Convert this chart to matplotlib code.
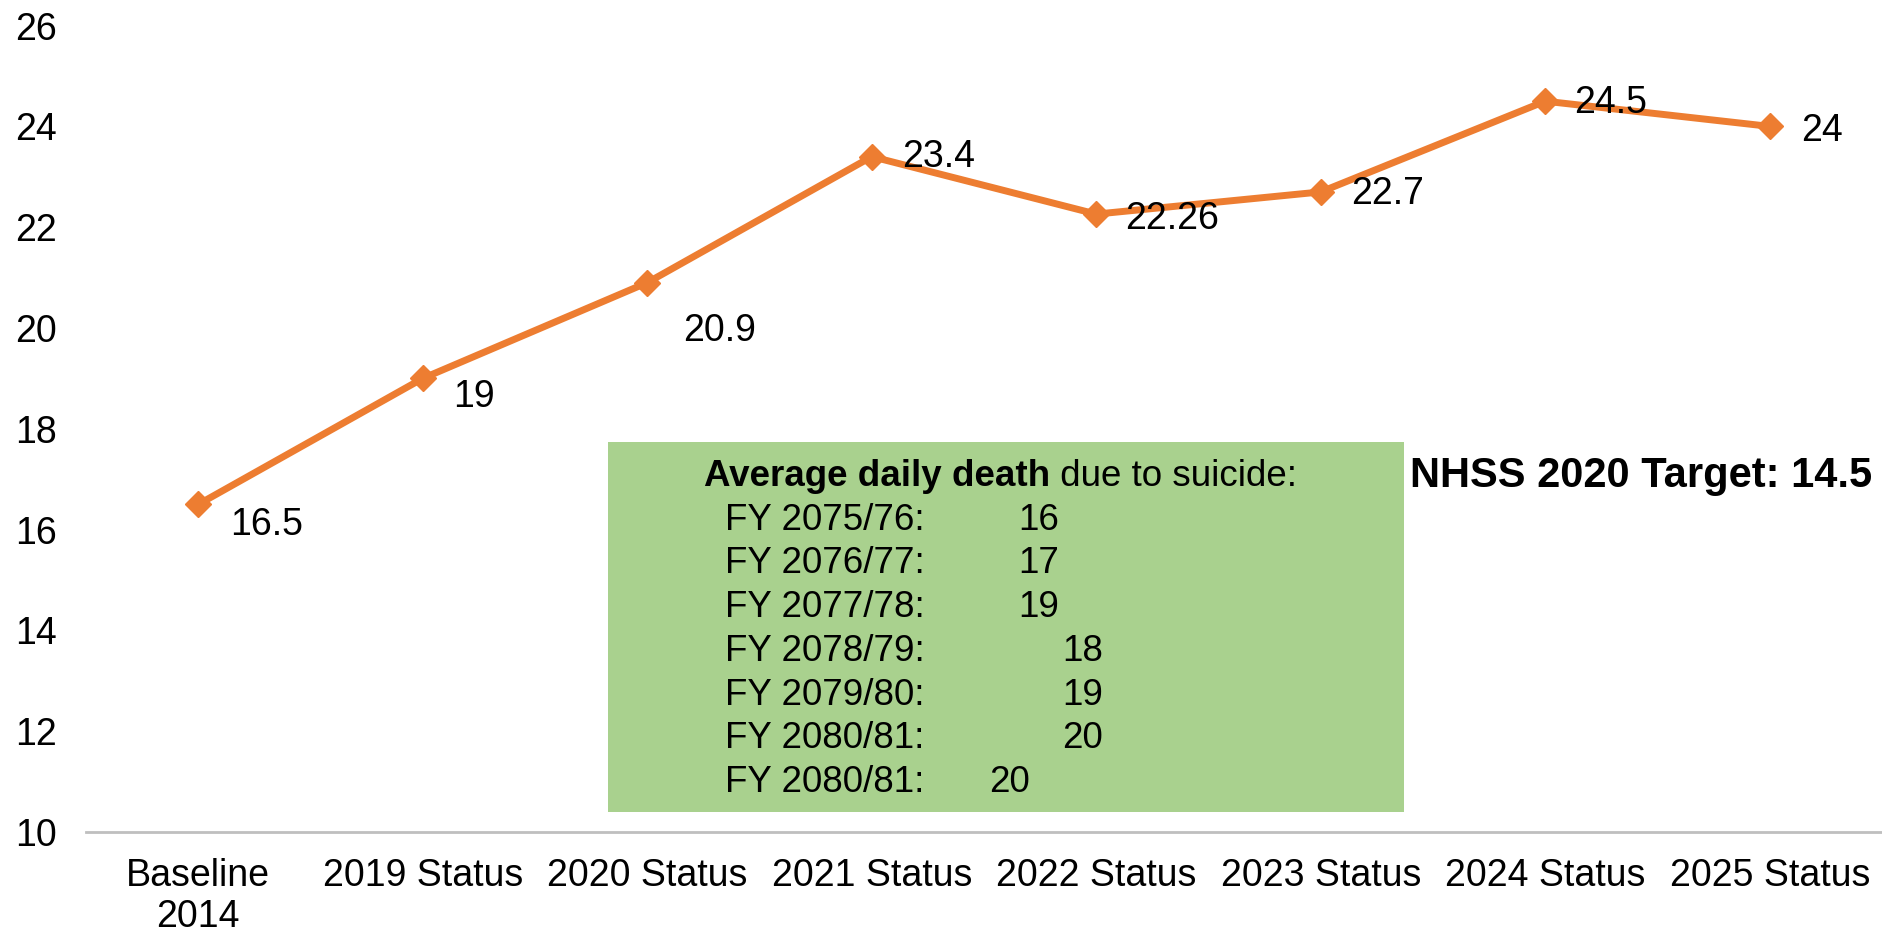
import matplotlib.pyplot as plt
from matplotlib.patches import Rectangle

plt.rcParams['font.family'] = ['Liberation Sans', 'DejaVu Sans']

categories = ['Baseline\n2014', '2019 Status', '2020 Status', '2021 Status',
              '2022 Status', '2023 Status', '2024 Status', '2025 Status']
values = [16.5, 19, 20.9, 23.4, 22.26, 22.7, 24.5, 24]
value_labels = ['16.5', '19', '20.9', '23.4', '22.26', '22.7', '24.5', '24']
# label offsets in pixels (dx, dy)
offsets = [(32, -21), (30, -19), (36, -48), (30, 0), (29, -5), (30, -2), (29, -2), (31, -5)]

fy_labels = ['FY 2075/76:', 'FY 2076/77:', 'FY 2077/78:', 'FY 2078/79:',
             'FY 2079/80:', 'FY 2080/81:', 'FY 2080/81:']
fy_values = ['16', '17', '19', '18', '19', '20', '20']
fy_value_x = [1018, 1018, 1018, 1062, 1062, 1062, 989]

W, H = 1882, 935
fs = 27
fig = plt.figure(figsize=(W / 100, H / 100), dpi=100)
ax = fig.add_axes([86 / W, 103 / H, 1 - 86 / W, (832 - 25.6) / H])

x = list(range(len(categories)))
ax.plot(x, values, color='#ED7D31', linewidth=5, marker='D', markersize=13,
        markeredgecolor='#ED7D31', markerfacecolor='#ED7D31', zorder=3, clip_on=False)

for xi, v, lab, (dx, dy) in zip(x, values, value_labels, offsets):
    ax.annotate(lab, (xi, v), xytext=(dx, dy), textcoords='offset pixels',
                ha='left', va='center', fontsize=fs, color='black')

ax.set_xlim(-0.5, 7.5)
ax.set_ylim(10, 26)
ax.set_yticks(range(10, 27, 2))
ax.set_xticks(x)
ax.set_xticklabels(categories, linespacing=1.18)
ax.tick_params(axis='both', length=0, labelsize=fs)
ax.tick_params(axis='y', pad=21)
ax.tick_params(axis='x', pad=19)
for s in ['top', 'right', 'left']:
    ax.spines[s].set_visible(False)
ax.spines['bottom'].set_color('#BFBFBF')
ax.spines['bottom'].set_linewidth(2)

# green info box
fig.patches.append(Rectangle((608 / W, 1 - 812 / H), (1404 - 608) / W, (812 - 442) / H,
                             transform=fig.transFigure, facecolor='#A9D18E',
                             edgecolor='none', zorder=5))
t = fig.text(704 / W, 1 - 477 / H, 'Average daily death', fontsize=26.5, fontweight='bold',
             ha='left', va='center', zorder=6)
fig.canvas.draw()
bb = t.get_window_extent()
fig.text(bb.x1 / W, 1 - 477 / H, ' due to suicide:', fontsize=26.5,
         ha='left', va='center', zorder=6)
for i, (lab, val, vx) in enumerate(zip(fy_labels, fy_values, fy_value_x)):
    yy = 520 + i * 43.8
    fig.text(725 / W, 1 - yy / H, lab, fontsize=26.5, ha='left', va='center', zorder=6)
    fig.text(vx / W, 1 - yy / H, val, fontsize=26.5, ha='left', va='center', zorder=6)

fig.text(1410 / W, 1 - 476 / H, 'NHSS 2020 Target: 14.5', fontsize=30,
         fontweight='bold', ha='left', va='center', zorder=6)

fig.savefig('out.png', dpi=100)
